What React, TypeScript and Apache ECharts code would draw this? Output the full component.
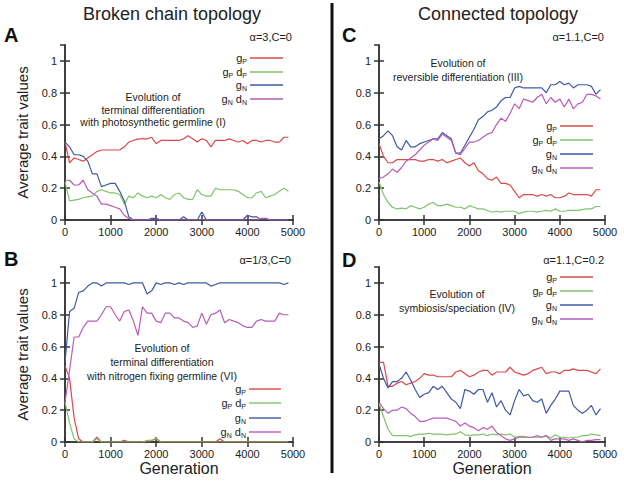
import React, { useEffect, useRef } from "react";
import * as echarts from "echarts";

const generations = [0,100,200,300,400,500,600,700,800,900,1000,1100,1200,1300,1400,1500,1600,1700,1800,1900,2000,2100,2200,2300,2400,2500,2600,2700,2800,2900,3000,3100,3200,3300,3400,3500,3600,3700,3800,3900,4000,4100,4200,4300,4400,4500,4600,4700,4800,4900];
const xTicks = [0, 1000, 2000, 3000, 4000, 5000];
const yTicks = [0, 0.2, 0.4, 0.6, 0.8, 1];

// Panel A (broken chain, alpha=3, C=0)
const A_gP = [0.49,0.36,0.39,0.38,0.37,0.39,0.41,0.43,0.44,0.44,0.44,0.44,0.44,0.46,0.49,0.50,0.51,0.51,0.51,0.52,0.48,0.50,0.50,0.50,0.50,0.50,0.51,0.53,0.51,0.49,0.51,0.50,0.46,0.50,0.50,0.50,0.51,0.50,0.49,0.50,0.48,0.50,0.50,0.49,0.50,0.50,0.49,0.49,0.52,0.52];
const A_gPdP = [0.24,0.12,0.125,0.13,0.14,0.145,0.15,0.18,0.19,0.18,0.17,0.17,0.16,0.10,0.15,0.14,0.17,0.15,0.14,0.15,0.14,0.16,0.14,0.13,0.16,0.17,0.14,0.13,0.13,0.19,0.16,0.15,0.15,0.20,0.19,0.19,0.19,0.19,0.18,0.16,0.14,0.14,0.17,0.18,0.14,0.15,0.16,0.18,0.20,0.18];
const A_gN = [0.49,0.46,0.41,0.41,0.40,0.37,0.29,0.29,0.21,0.22,0.23,0.23,0.18,0.12,0.02,0,0,0,0,0.01,0.01,0,0,0,0,0,0.02,0,0,0,0.05,0,0,0,0,0,0,0,0,0,0.03,0.02,0.02,0,0.01,0,0,0,0,0];
const A_gNdN = [0.25,0.25,0.22,0.22,0.25,0.19,0.17,0.15,0.10,0.10,0.09,0.08,0.07,0.03,0.01,0,0,0,0,0,0,0,0,0,0,0,0,0,0,0,0,0,0,0,0,0,0,0,0,0,0,0,0,0.01,0.01,0,0,0,0,0];

// Panel C (connected, alpha=1.1, C=0)
const C_gP = [0.48,0.40,0.36,0.36,0.38,0.38,0.38,0.38,0.38,0.37,0.37,0.38,0.38,0.37,0.38,0.36,0.37,0.38,0.39,0.36,0.34,0.36,0.31,0.29,0.26,0.25,0.27,0.23,0.23,0.22,0.18,0.14,0.16,0.16,0.16,0.15,0.16,0.15,0.16,0.14,0.14,0.15,0.17,0.16,0.16,0.16,0.16,0.15,0.19,0.19];
const C_gPdP = [0.24,0.16,0.11,0.08,0.07,0.075,0.07,0.09,0.08,0.07,0.08,0.10,0.11,0.09,0.09,0.10,0.09,0.08,0.08,0.07,0.09,0.08,0.07,0.07,0.06,0.05,0.055,0.05,0.055,0.055,0.055,0.04,0.05,0.055,0.055,0.05,0.055,0.06,0.055,0.07,0.055,0.055,0.06,0.06,0.06,0.065,0.07,0.07,0.085,0.085];
const C_gN = [0.51,0.53,0.56,0.53,0.46,0.44,0.50,0.46,0.46,0.48,0.49,0.50,0.51,0.51,0.55,0.53,0.51,0.42,0.42,0.47,0.52,0.57,0.63,0.65,0.68,0.69,0.71,0.75,0.77,0.77,0.83,0.84,0.83,0.83,0.83,0.83,0.83,0.80,0.85,0.85,0.87,0.85,0.86,0.83,0.85,0.85,0.85,0.84,0.79,0.82];
const C_gNdN = [0.26,0.27,0.29,0.32,0.30,0.33,0.37,0.39,0.41,0.44,0.47,0.49,0.51,0.50,0.54,0.52,0.50,0.42,0.41,0.45,0.49,0.49,0.50,0.52,0.54,0.55,0.60,0.64,0.62,0.67,0.73,0.70,0.76,0.75,0.74,0.77,0.79,0.73,0.77,0.74,0.76,0.71,0.76,0.70,0.73,0.74,0.79,0.79,0.78,0.76];

// Panel B (broken chain, alpha=1/3, C=0)
const B_gP = [0.48,0.40,0.15,0.02,0,0,0,0.03,0,0,0,0,0,0.01,0,0,0,0,0,0.01,0.02,0,0,0,0,0,0,0,0,0,0,0,0,0,0.02,0,0,0,0,0,0,0,0,0,0,0,0,0,0,0];
const B_gPdP = [0.25,0.12,0.02,0,0,0,0,0.02,0,0,0,0,0,0,0,0,0,0,0.01,0.01,0.025,0,0,0,0,0,0,0,0,0,0,0,0,0,0,0,0,0,0,0,0,0,0,0,0,0,0,0,0,0];
const B_gN = [0.5,0.82,0.84,0.94,0.95,0.98,1.0,1.0,0.98,1.0,1.0,1.0,1.0,1.0,0.99,1.0,1.0,1.0,0.93,0.95,1.0,0.99,1.0,1.0,0.99,1.0,0.99,1.0,1.0,1.0,1.0,1.0,0.98,0.99,1.0,1.0,1.0,1.0,1.0,1.0,1.0,1.0,1.0,1.0,1.0,1.0,1.0,1.0,0.99,1.0];
const B_gNdN = [0.25,0.45,0.66,0.66,0.72,0.76,0.76,0.76,0.80,0.85,0.85,0.80,0.76,0.82,0.83,0.76,0.67,0.85,0.81,0.81,0.76,0.75,0.81,0.81,0.78,0.78,0.76,0.75,0.72,0.73,0.81,0.74,0.80,0.81,0.83,0.75,0.77,0.76,0.75,0.73,0.72,0.72,0.76,0.77,0.76,0.76,0.76,0.81,0.80,0.80];

// Panel D (connected, alpha=1.1, C=0.2)
const D_gP = [0.50,0.50,0.35,0.35,0.37,0.38,0.36,0.37,0.38,0.40,0.43,0.42,0.42,0.41,0.41,0.41,0.41,0.44,0.45,0.43,0.41,0.42,0.44,0.45,0.45,0.42,0.44,0.44,0.44,0.47,0.44,0.43,0.42,0.43,0.45,0.46,0.47,0.43,0.44,0.44,0.43,0.45,0.45,0.46,0.45,0.45,0.45,0.44,0.43,0.46];
const D_gPdP = [0.24,0.16,0.08,0.04,0.04,0.04,0.04,0.035,0.045,0.05,0.05,0.055,0.05,0.05,0.05,0.045,0.05,0.05,0.065,0.045,0.04,0.045,0.045,0.05,0.04,0.05,0.045,0.05,0.045,0.05,0.03,0.035,0.035,0.03,0.03,0.03,0.03,0.04,0.025,0.045,0.03,0.03,0.025,0.03,0.03,0.04,0.04,0.05,0.045,0.04];
const D_gN = [0.49,0.40,0.34,0.38,0.38,0.40,0.44,0.39,0.33,0.28,0.30,0.31,0.35,0.33,0.35,0.31,0.27,0.25,0.21,0.33,0.32,0.30,0.33,0.33,0.25,0.31,0.22,0.26,0.20,0.17,0.26,0.33,0.29,0.30,0.26,0.25,0.27,0.18,0.23,0.27,0.32,0.32,0.32,0.23,0.20,0.18,0.20,0.23,0.17,0.21];
const D_gNdN = [0.25,0.21,0.18,0.20,0.20,0.22,0.21,0.18,0.16,0.13,0.13,0.14,0.15,0.15,0.15,0.15,0.14,0.13,0.10,0.12,0.10,0.09,0.07,0.09,0.08,0.10,0.06,0.04,0.02,0.01,0.02,0.03,0.03,0.03,0.03,0.04,0.03,0.04,0.01,0.02,0.02,0.02,0.01,0.02,0.01,0,0.01,0.01,0.015,0.015];

const seriesNames = ["gP", "gPdP", "gN", "gNdN"];
const legendTexts = ["{m|g}{s|P}", "{m|g}{s|P}{m| d}{s|P}", "{m|g}{s|N}", "{m|g}{s|N}{m| d}{s|N}"];
const seriesColors = ["#dc4848", "#80c46c", "#3f58a8", "#b85cb8"];

const panels = [
  { letter: "A", param: "\u03b1=3,C=0", values: [A_gP, A_gPdP, A_gN, A_gNdN],
    note: "Evolution of\nterminal differentiation\nwith photosynthetic germline (I)" },
  { letter: "C", param: "\u03b1=1.1,C=0", values: [C_gP, C_gPdP, C_gN, C_gNdN],
    note: "Evolution of\nreversible differentiation (III)" },
  { letter: "B", param: "\u03b1=1/3,C=0", values: [B_gP, B_gPdP, B_gN, B_gNdN],
    note: "Evolution of\nterminal differentiation\nwith nitrogen fixing germline (VI)" },
  { letter: "D", param: "\u03b1=1.1,C=0.2", values: [D_gP, D_gPdP, D_gN, D_gNdN],
    note: "Evolution of\nsymbiosis/speciation (IV)" },
];

const FONT = "Liberation Sans, Arial, Helvetica, sans-serif";

const layout = [
  { left: 65, top: 45, width: 228, height: 175, legX1: 250, legX2: 283, legY: 58, legStep: 13.7, noteX: 153, noteY: 97, noteLH: 12.5, letterX: 4, letterY: 35, paramX: 292, paramY: 37, yName: true, xName: false },
  { left: 379, top: 45, width: 226, height: 175, legX1: 560, legX2: 593, legY: 126, legStep: 14, noteX: 458, noteY: 63, noteLH: 14, letterX: 342, letterY: 35, paramX: 604, paramY: 37, yName: false, xName: false },
  { left: 65, top: 267, width: 228, height: 175, legX1: 249, legX2: 281, legY: 389, legStep: 14.3, noteX: 162, noteY: 348, noteLH: 14, letterX: 4, letterY: 259, paramX: 291, paramY: 260, yName: true, xName: true },
  { left: 379, top: 267, width: 226, height: 175, legX1: 560, legX2: 593, legY: 277, legStep: 14, noteX: 457, noteY: 294, noteLH: 14, letterX: 342, letterY: 260, paramX: 604, paramY: 260, yName: false, xName: true },
];

function buildOption() {
  const grids: any[] = [];
  const xAxes: any[] = [];
  const yAxes: any[] = [];
  const series: any[] = [];
  const graphics: any[] = [];
  const axisLine = { show: true, lineStyle: { color: "#333", width: 1.5 } };
  const axisTick = { show: true, inside: true, length: 5, lineStyle: { color: "#333", width: 1.5 } };

  layout.forEach((L) => {
    grids.push({ left: L.left, top: L.top, width: L.width, height: L.height, containLabel: false });
  });
  layout.forEach((L, i) => {
    xAxes.push({
      type: "value", gridIndex: i, min: xTicks[0], max: xTicks[xTicks.length - 1], interval: 1000,
      position: "bottom", axisLine, axisTick, splitLine: { show: false },
      axisLabel: { fontFamily: FONT, fontSize: 11, color: "#222", margin: 6, formatter: (v: number) => String(v) },
      name: L.xName ? "Generation" : "", nameLocation: "middle", nameGap: 18,
      nameTextStyle: { fontFamily: FONT, fontSize: 16, color: "#222" },
    });
  });
  layout.forEach((L, i) => {
    xAxes.push({
      type: "value", gridIndex: i, min: 0, max: 5000, interval: 1000, position: "top",
      axisLine, axisTick, axisLabel: { show: false }, splitLine: { show: false },
    });
  });
  layout.forEach((L, i) => {
    yAxes.push({
      type: "value", gridIndex: i, min: 0, max: 1.1, interval: 0.2, position: "left",
      axisLine, axisTick, splitLine: { show: false },
      axisLabel: { fontFamily: FONT, fontSize: 11, color: "#222", margin: 8, showMaxLabel: false,
        formatter: (v: number) => (yTicks.some((t) => Math.abs(t - v) < 1e-6) ? String(Math.round(v * 10) / 10) : "") },
      name: L.yName ? "Average trait values" : "", nameLocation: "middle", nameGap: 35,
      nameTextStyle: { fontFamily: FONT, fontSize: 15, color: "#222" },
    });
  });
  layout.forEach((L, i) => {
    yAxes.push({
      type: "value", gridIndex: i, min: 0, max: 1.1, interval: 0.2, position: "right",
      axisLine, axisTick, axisLabel: { show: false }, splitLine: { show: false },
    });
  });

  panels.forEach((p, i) => {
    const L = layout[i];
    p.values.forEach((vals, k) => {
      series.push({
        type: "line", name: seriesNames[k], xAxisIndex: i, yAxisIndex: i,
        data: generations.map((g, j) => [g, vals[j]]),
        symbol: "none", showSymbol: false,
        lineStyle: { color: seriesColors[k], width: 1.2 },
        itemStyle: { color: seriesColors[k] },
        z: 3,
      });
      const y = Math.round(L.legY + k * L.legStep);
      graphics.push({
        type: "line", shape: { x1: L.legX1, y1: y, x2: L.legX2, y2: y },
        style: { stroke: seriesColors[k], lineWidth: 1.4 }, z: 10,
      });
      graphics.push({
        type: "text", x: L.legX1 - 3, y: y,
        style: {
          text: legendTexts[k], textAlign: "right", textVerticalAlign: "middle",
          fontFamily: FONT, fontSize: 11, fill: "#222",
          rich: {
            m: { fontFamily: FONT, fontSize: 11, fill: "#222", lineHeight: 14 },
            s: { fontFamily: FONT, fontSize: 7, fill: "#222", lineHeight: 8, verticalAlign: "bottom" },
          },
        },
        z: 10,
      });
    });
    graphics.push({
      type: "text", x: L.letterX, y: L.letterY,
      style: { text: p.letter, fontFamily: FONT, fontWeight: "bold", fontSize: 20, fill: "#111", textVerticalAlign: "middle" },
    });
    graphics.push({
      type: "text", x: L.paramX, y: L.paramY,
      style: { text: p.param, fontFamily: FONT, fontSize: 11, fill: "#222", textAlign: "right", textVerticalAlign: "middle" },
    });
    const lines = p.note.split("\n");
    lines.forEach((ln, li) => {
      graphics.push({
        type: "text", x: L.noteX, y: L.noteY + li * L.noteLH,
        style: { text: ln, fontFamily: FONT, fontSize: 10.5, fill: "#222", textAlign: "center", textVerticalAlign: "middle" },
      });
    });
  });

  graphics.push({
    type: "text", x: 172, y: 14,
    style: { text: "Broken chain topology", fontFamily: FONT, fontSize: 18, fill: "#222", textAlign: "center", textVerticalAlign: "middle" },
  });
  graphics.push({
    type: "text", x: 498, y: 14,
    style: { text: "Connected topology", fontFamily: FONT, fontSize: 18, fill: "#222", textAlign: "center", textVerticalAlign: "middle" },
  });
  graphics.push({
    type: "rect", shape: { x: 330.5, y: 3, width: 3, height: 470 },
    style: { fill: "#111" },
  });

  return {
    animation: false,
    backgroundColor: "#ffffff",
    grid: grids,
    xAxis: xAxes,
    yAxis: yAxes,
    series,
    graphic: graphics,
  };
}

export default function App() {
  const ref = useRef<HTMLDivElement>(null);
  useEffect(() => {
    document.body.style.margin = "0";
    const chart = echarts.init(ref.current!, null, { renderer: "svg" });
    chart.setOption(buildOption() as any);
    return () => chart.dispose();
  }, []);
  return <div ref={ref} style={{ width: 624, height: 481 }} />;
}
